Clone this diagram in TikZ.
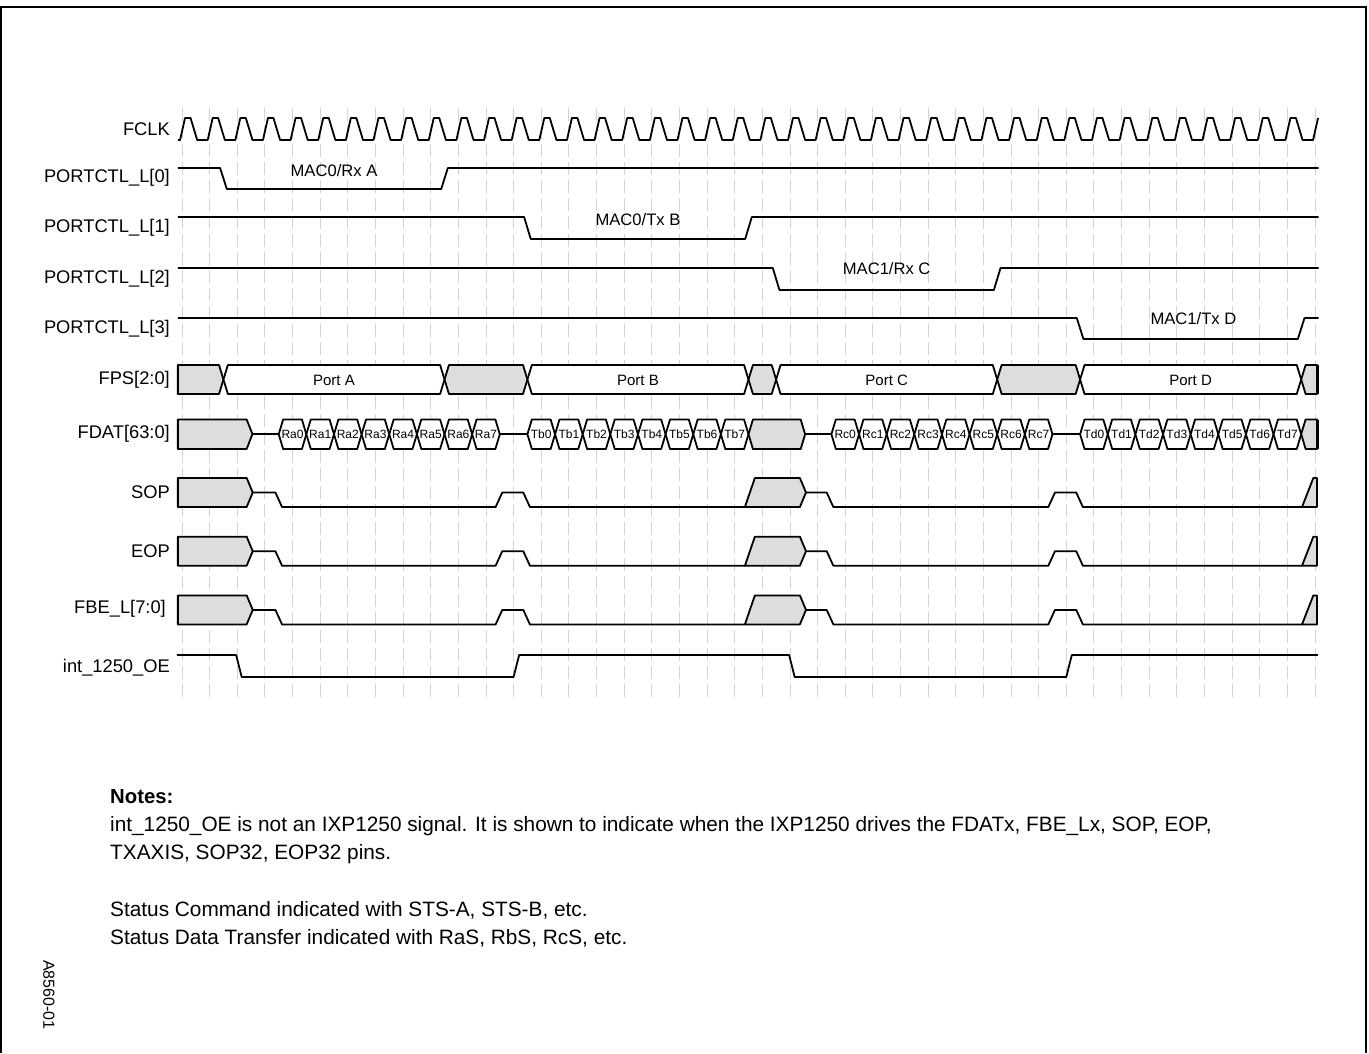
\documentclass[tikz,border=0pt]{standalone}
\usepackage{fontspec}
\setmainfont{Liberation Sans}
\definecolor{busgray}{RGB}{221,221,221}
\definecolor{tickgray}{RGB}{212,212,212}

\tikzset{
	sig/.style={line width=1.8pt, line join=round},
	tick/.style={draw=tickgray, line width=0.9pt, dash pattern=on 13pt off 5pt},
	signame/.style={anchor=east, inner sep=0pt, font=\fontsize{18.3}{18.3}\selectfont},
	mac/.style={inner sep=0pt, font=\fontsize{16.6}{16.6}\selectfont},
	port/.style={inner sep=0pt, font=\fontsize{15}{15}\selectfont},
	cell/.style={inner sep=0pt, font=\fontsize{12}{12}\selectfont},
	note/.style={anchor=west, inner sep=0pt, font=\fontsize{20.8}{20.8}\selectfont},
}

% bus segment: [fill]{x from}{x to}{y top}{y bottom}
\newcommand{\seg}[5][white]{
	\draw[sig, fill=#1] (#2,{(#4+#5)/2}) -- ({#2+\h},#4) -- ({#3-\h},#4) -- (#3,{(#4+#5)/2}) -- ({#3-\h},#5) -- ({#2+\h},#5) -- cycle;
}

\begin{document}
\begin{tikzpicture}[x=1pt, y=-1pt]
	\useasboundingbox (0,0) rectangle (1369,1053);
	\draw[line width=2pt] (1,1053) -- (1,7) -- (1366,7) -- (1366,1053);

	% signal names
	\node[signame] (fclk) at (170,129) {FCLK};
	\node[signame] (pc0) at (170,178) {PORTCTL\_L[0]};
	\node[signame] (pc1) at (170,228) {PORTCTL\_L[1]};
	\node[signame] (pc2) at (170,279) {PORTCTL\_L[2]};
	\node[signame] (pc3) at (170,329) {PORTCTL\_L[3]};
	\node[signame] (fps) at (170,380) {FPS[2:0]};
	\node[signame] (fdat) at (170,434) {FDAT[63:0]};
	\node[signame] (sop) at (170,492) {SOP};
	\node[signame] (eop) at (170,551) {EOP};
	\node[signame] (fbe) at (166,609) {FBE\_L[7:0]};
	\node[signame] (oe) at (170,668) {int\_1250\_OE};

	\begin{scope}[x=27.634pt, xshift=182pt]
		\def\h{0.16}
		\def\w{0.12}
		% clock grid
		\foreach \k in {0,...,41} \draw[tick] (\k,108) -- (\k,700);

		% FCLK
		\draw[sig] (-0.15,140) \foreach \k in {0,...,40} { -- ({\k-0.07},140) -- ({\k+0.11},118) -- ({\k+0.31},118) -- ({\k+0.55},140) } -- (40.93,140) -- (41.11,118);

		% port controls
		\draw[sig] (-0.15,168) -- ({1.5-\w},168) -- ({1.5+\w},189) -- ({9.5-\w},189) -- ({9.5+\w},168) -- (41.13,168);
		\node[mac] (maca) at (5.5,171) {MAC0/Rx A};
		\draw[sig] (-0.15,217) -- ({12.5-\w},217) -- ({12.5+\w},239) -- ({20.5-\w},239) -- ({20.5+\w},217) -- (41.13,217);
		\node[mac] (macb) at (16.5,220) {MAC0/Tx B};
		\draw[sig] (-0.15,268) -- ({21.5-\w},268) -- ({21.5+\w},290) -- ({29.5-\w},290) -- ({29.5+\w},268) -- (41.13,268);
		\node[mac] (macc) at (25.5,269) {MAC1/Rx C};
		\draw[sig] (-0.15,318) -- ({32.5-\w},318) -- ({32.5+\w},339) -- ({40.5-\w},339) -- ({40.5+\w},318) -- (41.13,318);
		\node[mac] (macd) at (36.6,319) {MAC1/Tx D};

		% FPS
		\draw[sig, fill=busgray] (-0.15,365) -- ({1.5-\h},365) -- (1.5,379.5) -- ({1.5-\h},394) -- (-0.15,394) -- cycle;
		\seg{1.5}{9.5}{365}{394}
		\seg[busgray]{9.5}{12.5}{365}{394}
		\seg{12.5}{20.5}{365}{394}
		\seg[busgray]{20.5}{21.5}{365}{394}
		\seg{21.5}{29.5}{365}{394}
		\seg[busgray]{29.5}{32.5}{365}{394}
		\seg{32.5}{40.5}{365}{394}
		\draw[sig, fill=busgray] (40.5,379.5) -- ({40.5+\h},365) -- (41.08,365) -- (41.08,394) -- ({40.5+\h},394) -- cycle;
		\draw[line width=2.6pt] (41.08,365) -- (41.08,394);
		\node[port] (porta) at (5.5,380) {Port A};
		\node[port] (portb) at (16.5,380) {Port B};
		\node[port] (portc) at (25.5,380) {Port C};
		\node[port] (portd) at (36.5,380) {Port D};

		% FDAT
		\draw[sig, fill=busgray] (-0.15,419.5) -- ({2.55-\h-0.05},419.5) -- (2.55,434) -- ({2.55-\h-0.05},449) -- (-0.15,449) -- cycle;
		\draw[sig] (2.55,434) -- (3.5,434);
		\foreach \i in {0,...,7} {
			\seg{3.5+\i}{4.5+\i}{419.5}{449}
			\node[cell] (ra\i) at (4+\i,434) {Ra\i};
		}
		\draw[sig] (11.5,434) -- (12.5,434);
		\foreach \i in {0,...,7} {
			\seg{12.5+\i}{13.5+\i}{419.5}{449}
			\node[cell] (tb\i) at (13+\i,434) {Tb\i};
		}
		\seg[busgray]{20.5}{22.55}{419.5}{449}
		\draw[sig] (22.55,434) -- (23.5,434);
		\foreach \i in {0,...,7} {
			\seg{23.5+\i}{24.5+\i}{419.5}{449}
			\node[cell] (rc\i) at (24+\i,434) {Rc\i};
		}
		\draw[sig] (31.5,434) -- (32.5,434);
		\foreach \i in {0,...,7} {
			\seg{32.5+\i}{33.5+\i}{419.5}{449}
			\node[cell] (td\i) at (33+\i,434) {Td\i};
		}
		\draw[sig, fill=busgray] (40.5,434) -- ({40.5+\h},419.5) -- (41.08,419.5) -- (41.08,449) -- ({40.5+\h},449) -- cycle;
		\draw[line width=2.6pt] (41.08,419.5) -- (41.08,449);

		% SOP, EOP, FBE_L
		\foreach \t in {478,536.7,595.4} {
			\pgfmathsetmacro\b{\t+29}
			\pgfmathsetmacro\m{\t+14.5}
			\draw[sig, fill=busgray] (-0.15,\t) -- (2.34,\t) -- (2.56,\m) -- (2.34,\b) -- (-0.15,\b) -- cycle;
			\draw[sig] (2.56,\m) -- ({3.5-\w},\m) -- ({3.5+\w},\b) -- ({11.47-\w},\b) -- ({11.47+\w},\m) -- ({12.47-\w},\m) -- ({12.47+\w},\b) -- (20.37,\b);
			\draw[sig, fill=busgray] (20.37,\b) -- (20.73,\t) -- (22.36,\t) -- (22.58,\m) -- (22.36,\b) -- cycle;
			\draw[sig] (22.58,\m) -- ({23.45-\w},\m) -- ({23.45+\w},\b) -- ({31.47-\w},\b) -- ({31.47+\w},\m) -- ({32.48-\w},\m) -- ({32.48+\w},\b) -- (40.53,\b);
			\draw[sig, fill=busgray] (40.53,\b) -- (40.94,\t) -- (41.07,\t) -- (41.07,\b) -- cycle;
		}

		% int_1250_OE
		\draw[sig] (-0.19,655) -- (1.96,655) -- (2.16,677) -- (12.0,677) -- (12.2,655) -- (21.97,655) -- (22.17,677) -- (32.0,677) -- (32.2,655) -- (41.1,655);
	\end{scope}

	% notes
	\node[note, font=\fontsize{20.3}{20.3}\selectfont\bfseries] (notes) at (110,797) {Notes:};
	\node[note] (n1) at (110,826) {int\_1250\_OE is not an IXP1250 signal. It is shown to indicate when the IXP1250 drives the FDATx, FBE\_Lx, SOP, EOP,};
	\node[note] (n2) at (110,854) {TXAXIS, SOP32, EOP32 pins.};
	\node[note] (n3) at (110,910) {Status Command indicated with STS-A, STS-B, etc.};
	\node[note] (n4) at (110,938) {Status Data Transfer indicated with RaS, RbS, RcS, etc.};
	\node[rotate=-90, inner sep=0pt, font=\fontsize{16}{16}\selectfont] (fig) at (49,995) {A8560-01};
\end{tikzpicture}
\end{document}
